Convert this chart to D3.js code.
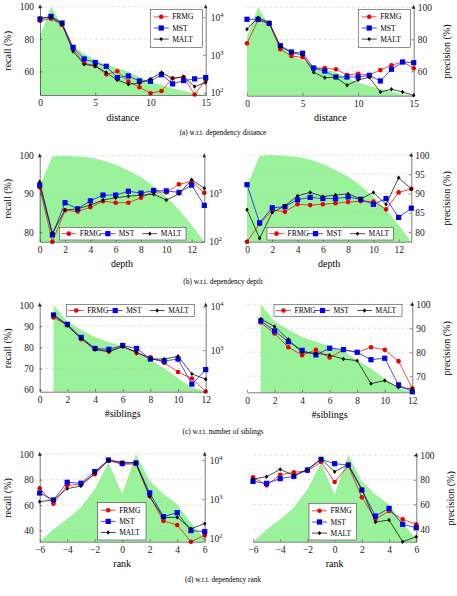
<!DOCTYPE html>
<html lang="en">
<head>
<meta charset="utf-8">
<title>Recall / precision w.r.t. dependency properties</title>
<script src="https://d3js.org/d3.v7.min.js"></script>
<style>
  body { margin: 0; background: #fff; }
</style>
</head>
<body>
<script>
// ---- data ----
const systems = ["FRMG", "MST", "MALT"];

// (a) dependency distance
const distance = [0, 1, 2, 3, 4, 5, 6, 7, 8, 9, 10, 11, 12, 13, 14, 15];
const distanceCount = [3200, 19000, 6300, 1660, 1100, 740, 540, 450, 360, 260, 195, 160, 130, 112, 95, 87];
const distRecallFRMG = [91.3, 92.6, 88.7, 73.6, 65.0, 63.3, 58.1, 60.0, 53.6, 50.1, 46.4, 47.8, 55.7, 56.3, 45.6, 54.6];
const distRecallMST  = [92.4, 94.0, 89.9, 74.8, 67.6, 65.4, 63.1, 56.1, 57.1, 54.0, 53.8, 57.9, 52.2, 54.2, 55.3, 56.1];
const distRecallMALT = [92.8, 93.4, 89.3, 72.2, 64.3, 63.3, 59.2, 54.6, 52.0, 52.6, 55.3, 59.2, 55.5, 56.7, 50.5, 53.0];
const distPrecFRMG = [77.5, 92.1, 89.6, 73.8, 69.6, 68.8, 61.9, 62.1, 61.3, 57.7, 58.5, 57.7, 60.8, 63.8, 66.0, 61.9];
const distPrecMST  = [92.5, 92.5, 90.0, 76.0, 72.1, 71.3, 62.1, 60.2, 56.5, 56.5, 56.5, 57.5, 54.0, 61.3, 65.8, 65.4];
const distPrecMALT = [86.3, 93.5, 90.6, 75.4, 71.7, 70.2, 59.4, 56.0, 56.3, 51.3, 54.6, 56.3, 47.1, 48.8, 47.1, 45.0];

// (b) dependency depth
const depth = [0, 1, 2, 3, 4, 5, 6, 7, 8, 9, 10, 11, 12, 13];
const depthCount = [1400, 5800, 6000, 5700, 5500, 4800, 3900, 2950, 2150, 1400, 850, 460, 220, 100];
const depthRecallFRMG = [91.7, 77.5, 85.7, 85.4, 86.5, 88.1, 87.7, 87.7, 89.0, 90.6, 90.4, 92.5, 93.3, 90.3];
const depthRecallMST  = [92.3, 79.3, 87.7, 86.1, 88.2, 89.7, 89.7, 90.7, 90.2, 90.9, 90.8, 90.4, 92.3, 87.0];
const depthRecallMALT = [93.2, 79.7, 85.8, 86.1, 87.1, 88.4, 89.0, 89.4, 89.7, 89.9, 88.4, 90.0, 93.7, 91.5];
const depthPrecFRMG = [77.5, 82.1, 85.7, 85.3, 87.2, 87.0, 87.2, 87.5, 87.8, 88.0, 87.9, 85.9, 90.3, 91.2];
const depthPrecMST  = [92.3, 82.4, 86.3, 86.6, 88.4, 89.0, 88.7, 88.7, 89.1, 88.5, 87.2, 88.7, 83.8, 86.2];
const depthPrecMALT = [85.8, 78.4, 85.1, 86.8, 89.4, 90.3, 89.2, 89.6, 89.9, 88.6, 90.3, 87.2, 94.1, 91.2];

// (c) number of siblings
const siblings = [1, 2, 3, 4, 5, 6, 7, 8, 9, 10, 11, 12];
const siblingsCount = [11000, 4500, 2900, 2000, 1550, 1230, 950, 590, 380, 225, 140, 110];
const sibRecallFRMG = [94.1, 90.6, 83.9, 79.5, 78.1, 80.8, 77.3, 75.3, 72.7, 68.4, 65.3, 59.2];
const sibRecallMST  = [95.3, 90.9, 84.7, 79.5, 79.1, 80.9, 79.5, 74.5, 73.6, 74.5, 62.7, 69.5];
const sibRecallMALT = [95.3, 90.2, 84.2, 78.9, 78.0, 80.3, 77.8, 74.5, 74.5, 75.8, 67.5, 65.0];
const sibPrecFRMG = [92.4, 87.8, 82.1, 78.8, 81.0, 77.8, 81.0, 80.0, 82.1, 81.0, 76.3, 64.9];
const sibPrecMST  = [93.1, 88.9, 84.4, 80.8, 78.9, 81.7, 81.1, 80.0, 76.9, 77.5, 66.4, 63.5];
const sibPrecMALT = [93.9, 90.7, 85.4, 79.9, 79.6, 78.8, 77.2, 76.5, 66.9, 68.2, 65.4, 64.7];

// (d) dependency rank
const rank = [-6, -5, -4, -3, -2, -1, 0, 1, 2, 3, 4, 5, 6];
const rankCount = [82, 170, 310, 620, 1800, 8700, 1350, 14000, 2950, 1350, 740, 250, 95];
const rankRecallFRMG = [73.3, 61.2, 75.4, 76.7, 84.3, 95.0, 92.1, 92.4, 67.2, 47.6, 44.4, 31.3, 36.3];
const rankRecallMST  = [69.6, 64.1, 78.0, 77.2, 86.4, 95.5, 92.9, 93.2, 69.6, 51.0, 54.1, 40.0, 39.2];
const rankRecallMALT = [62.8, 64.1, 73.0, 75.1, 85.1, 95.5, 93.7, 93.4, 66.7, 50.2, 50.5, 41.5, 45.5];
const rankPrecFRMG = [82.0, 75.5, 84.1, 86.0, 87.1, 94.3, 78.2, 91.1, 65.8, 48.3, 54.8, 48.0, 44.0];
const rankPrecMST  = [78.7, 77.1, 80.9, 82.8, 87.9, 96.5, 93.0, 91.9, 71.7, 50.7, 56.9, 44.0, 41.3];
const rankPrecMALT = [80.6, 82.5, 88.4, 83.6, 88.4, 96.8, 86.5, 92.5, 72.3, 45.9, 47.5, 30.0, 34.0];

// ---- layout ----
const serif = "'Liberation Serif', 'Times New Roman', 'DejaVu Serif', serif";
const colors = { FRMG: "#ee0000", MST: "#0000ee", MALT: "#000000" };
const green = "#9af29a";

const svg = d3.select("body").append("svg")
  .attr("width", 457).attr("height", 596)
  .attr("font-family", serif);

const panels = [
  { x: distance, xdom: [0, 15], count: distanceCount, series: [distRecallFRMG, distRecallMST, distRecallMALT],
    side: "left", left: 40, right: 205.7, top: 6.7, bottom: 95, ymin: 45.3,
    yticks: [60, 80, 100], logticks: [100, 1000, 10000], xticks: [0, 5, 10, 15], xlabel: "distance",
    legend: { dir: "v", x: 150.7, y: 9.3, w: 52, h: 38 } },
  { x: distance, xdom: [0, 15], count: distanceCount, series: [distPrecFRMG, distPrecMST, distPrecMALT],
    side: "right", left: 247, right: 413.7, top: 7.3, bottom: 95.7, ymin: 44.8,
    yticks: [60, 80, 100], xticks: [0, 5, 10, 15], xlabel: "distance", labelX: 446,
    legend: { dir: "v", x: 358.7, y: 9.3, w: 52, h: 38 } },
  { x: depth, xdom: [0, 13], count: depthCount, series: [depthRecallFRMG, depthRecallMST, depthRecallMALT],
    side: "left", left: 39.7, right: 204.3, top: 155.7, bottom: 241.7, ymin: 77.5,
    yticks: [80, 90, 100], logticks: [100, 1000], xticks: [0, 2, 4, 6, 8, 10, 12], xlabel: "depth",
    legend: { dir: "h", x: 59.3, y: 227.3, w: 126.7, h: 12.7 } },
  { x: depth, xdom: [0, 13], count: depthCount, series: [depthPrecFRMG, depthPrecMST, depthPrecMALT],
    side: "right", left: 247, right: 411.3, top: 155, bottom: 241.7, ymin: 77.5,
    yticks: [80, 85, 90, 95, 100], xticks: [0, 2, 4, 6, 8, 10, 12], xlabel: "depth", labelX: 446,
    legend: { dir: "h", x: 267, y: 227.3, w: 126.3, h: 12.7 } },
  { x: siblings, xdom: [0, 12], count: siblingsCount, series: [sibRecallFRMG, sibRecallMST, sibRecallMALT],
    side: "left", left: 39.7, right: 205.7, top: 305, bottom: 391.7, ymin: 59.1,
    yticks: [60, 70, 80, 90, 100], logticks: [1000, 10000], xticks: [0, 2, 4, 6, 8, 10, 12], xlabel: "#siblings",
    legend: { dir: "h", x: 66.7, y: 304.3, w: 127.6, h: 12.4 } },
  { x: siblings, xdom: [0, 12], count: siblingsCount, series: [sibPrecFRMG, sibPrecMST, sibPrecMALT],
    side: "right", left: 247, right: 412.3, top: 304.3, bottom: 392.3, ymin: 63.3,
    yticks: [70, 80, 90, 100], xticks: [0, 2, 4, 6, 8, 10, 12], xlabel: "#siblings", labelX: 446,
    legend: { dir: "h", x: 274, y: 304.3, w: 128, h: 12.4 } },
  { x: rank, xdom: [-6, 6], count: rankCount, series: [rankRecallFRMG, rankRecallMST, rankRecallMALT],
    side: "left", left: 39.7, right: 204.7, top: 454.3, bottom: 541.7, ymin: 31.3,
    yticks: [40, 60, 80, 100], logticks: [100, 1000, 10000], xticks: [-6, -4, -2, 0, 2, 4, 6], xlabel: "rank",
    legend: { dir: "v", x: 97.7, y: 502.7, w: 48.3, h: 37.3 } },
  { x: rank, xdom: [-6, 6], count: rankCount, series: [rankPrecFRMG, rankPrecMST, rankPrecMALT],
    side: "right", left: 253, right: 416.3, top: 455, bottom: 541.7, ymin: 30,
    yticks: [40, 60, 80, 100], xticks: [-6, -4, -2, 0, 2, 4, 6], xlabel: "rank", labelX: 450.7,
    legend: { dir: "v", x: 309, y: 503.3, w: 47.7, h: 36.7 } }
];

const captions = [
  { text: "(a)  w.r.t. dependency distance", y: 134.5 },
  { text: "(b)  w.r.t. dependency depth", y: 284 },
  { text: "(c)  w.r.t. number of siblings", y: 434 },
  { text: "(d)  w.r.t. dependency rank", y: 582 }
];

const fmtNum = d => d < 0 ? "\u2212" + Math.abs(d) : String(d);

function marker(g, name, cx, cy) {
  if (name === "FRMG") {
    g.append("circle").attr("cx", cx).attr("cy", cy).attr("r", 2.3).attr("fill", colors.FRMG);
  } else if (name === "MST") {
    g.append("rect").attr("x", cx - 2.6).attr("y", cy - 2.6).attr("width", 5.2).attr("height", 5.2)
      .attr("fill", colors.MST);
  } else {
    const s = 2.2;
    g.append("path").attr("d", `M${cx},${cy - s}L${cx + s * 0.8},${cy}L${cx},${cy + s}L${cx - s * 0.8},${cy}Z`)
      .attr("fill", colors.MALT);
  }
}

function arrowUp(g, x, yTop) {
  g.append("path").attr("d", `M${x},${yTop - 2.5}L${x + 1.7},${yTop + 1.5}L${x - 1.7},${yTop + 1.5}Z`)
    .attr("fill", "#222");
}

function styleAxis(sel) {
  sel.attr("font-family", serif).attr("font-size", 9.5);
  sel.selectAll("path.domain").attr("stroke", "#222").attr("stroke-width", 0.6);
  sel.selectAll(".tick line").attr("stroke", "#222").attr("stroke-width", 0.5);
  sel.selectAll("text").attr("fill", "#1a1a1a");
}

panels.forEach(p => {
  const g = svg.append("g");
  const x = d3.scaleLinear().domain(p.xdom).range([p.left, p.right]);
  const y = d3.scaleLinear().domain([p.ymin, 100]).range([p.bottom, p.top]);
  const yc = d3.scaleLog().domain(d3.extent(p.count)).range([p.bottom, p.top]);

  // counts as the green area (log scale)
  const area = d3.area().x((d, i) => x(p.x[i])).y0(p.bottom).y1(d => yc(d));
  g.append("path").datum(p.count).attr("d", area).attr("fill", green);

  // dashed grid at the recall/precision ticks
  g.selectAll(".grid").data(p.yticks).enter().append("line")
    .attr("x1", p.left).attr("x2", p.right)
    .attr("y1", d => y(d)).attr("y2", d => y(d))
    .attr("stroke", "#c4c4c4").attr("stroke-width", 0.5).attr("stroke-dasharray", "3,2.5");

  // series
  const line = d3.line().x((d, i) => x(p.x[i])).y(d => y(d));
  p.series.forEach((vals, k) => {
    g.append("path").datum(vals).attr("d", line)
      .attr("fill", "none").attr("stroke", colors[systems[k]]).attr("stroke-width", 0.7);
  });
  p.series.forEach((vals, k) => {
    vals.forEach((v, i) => marker(g, systems[k], x(p.x[i]), y(v)));
  });

  // x axis
  const xa = g.append("g").attr("transform", `translate(0,${p.bottom})`)
    .call(d3.axisBottom(x).tickValues(p.xticks).tickFormat(fmtNum).tickSize(-2.5).tickSizeOuter(0).tickPadding(4.5));
  styleAxis(xa);

  if (p.side === "left") {
    const ya = g.append("g").attr("transform", `translate(${p.left},0)`)
      .call(d3.axisLeft(y).tickValues(p.yticks).tickSize(-2.5).tickSizeOuter(0).tickPadding(6));
    styleAxis(ya);
    arrowUp(g, p.left, p.top);

    const la = g.append("g").attr("transform", `translate(${p.right},0)`)
      .call(d3.axisRight(yc).tickValues(p.logticks).tickSize(-2.5).tickSizeOuter(0).tickPadding(5).tickFormat(() => "10"));
    styleAxis(la);
    la.selectAll(".tick text").each(function (d) {
      d3.select(this).append("tspan").attr("dy", -4).attr("font-size", 6.5).text(Math.round(Math.log10(d)));
    });
    arrowUp(g, p.right, p.top);

    g.append("text").attr("transform", `translate(7.5,${(p.top + p.bottom) / 2}) rotate(-90)`)
      .attr("text-anchor", "middle").attr("dominant-baseline", "central").attr("font-size", 10)
      .text("recall (%)");
  } else {
    const ya = g.append("g").attr("transform", `translate(${p.right},0)`)
      .call(d3.axisRight(y).tickValues(p.yticks).tickSize(-2.5).tickSizeOuter(0).tickPadding(4));
    styleAxis(ya);
    arrowUp(g, p.right, p.top);

    g.append("text").attr("transform", `translate(${p.labelX},${(p.top + p.bottom) / 2}) rotate(-90)`)
      .attr("text-anchor", "middle").attr("dominant-baseline", "central").attr("font-size", 10)
      .text("precision (%)");
  }

  g.append("text").attr("x", (p.left + p.right) / 2).attr("y", p.bottom + 25.5)
    .attr("text-anchor", "middle").attr("font-size", 10).text(p.xlabel);

  // legend
  const L = p.legend;
  const lg = g.append("g");
  lg.append("rect").attr("x", L.x).attr("y", L.y).attr("width", L.w).attr("height", L.h)
    .attr("fill", "#fff").attr("stroke", "#222").attr("stroke-width", 0.5);
  systems.forEach((s, k) => {
    let ix, iy;
    if (L.dir === "v") {
      ix = L.x + 3; iy = L.y + [7.5, 18.7, 29.8][k];
    } else {
      ix = L.x + [2, 41, 83][k]; iy = L.y + L.h / 2;
    }
    lg.append("line").attr("x1", ix).attr("x2", ix + 15).attr("y1", iy).attr("y2", iy)
      .attr("stroke", colors[s]).attr("stroke-width", 0.7);
    marker(lg, s, ix + 7.5, iy);
    lg.append("text").attr("x", ix + 18.5).attr("y", iy + 2.6).attr("font-size", 7.5).text(s);
  });
});

svg.selectAll(".caption").data(captions).enter().append("text")
  .attr("x", 223).attr("y", d => d.y).attr("text-anchor", "middle").attr("font-size", 7.3)
  .text(d => d.text);

// make sure every label uses the serif face
svg.selectAll("text").style("font-family", serif);
</script>
</body>
</html>
